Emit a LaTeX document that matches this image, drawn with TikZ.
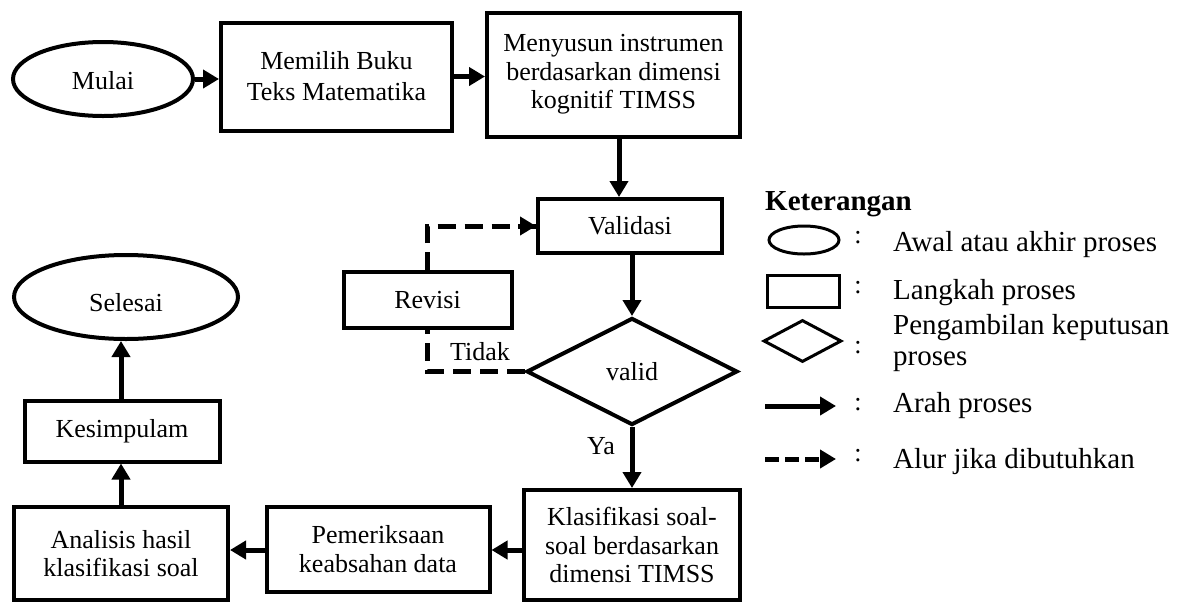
\documentclass[tikz,border=0pt]{standalone}
\usepackage{fontspec}
\setmainfont{Liberation Serif}
\usetikzlibrary{shapes.geometric,arrows.meta}
\begin{document}
\begin{tikzpicture}[x=1pt,y=-1pt,
  every node/.style={font=\fontsize{26}{28.5}\selectfont, inner sep=0pt},
  box/.style={draw, line width=4pt, rectangle, align=center},
  oval/.style={draw, line width=4pt, ellipse},
  dia/.style={draw, line width=4pt, diamond},
  flow/.style={line width=5pt, -{Triangle[length=16pt,width=18pt]}},
  optflow/.style={line width=5pt, dash pattern=on 18pt off 9pt},
  lbl/.style={font=\fontsize{26}{28}\selectfont},
  leg/.style={font=\fontsize{29}{31}\selectfont, anchor=west, align=left},
  colon/.style={font=\fontsize{26}{28}\selectfont}
]
\useasboundingbox (0,0) rectangle (1186,606);
% main nodes
\node[oval, minimum width=180pt, minimum height=74pt] (mulai) at (103,79) {Mulai\rule{0pt}{22pt}};
\node[box, minimum width=231pt, minimum height=108pt, font=\fontsize{26}{31}\selectfont] (memilih) at (336.5,76.5) {Memilih Buku\\Teks Matematika};
\node[box, minimum width=253pt, minimum height=124pt] (menyusun) at (613.5,74.5) {Menyusun instrumen\\berdasarkan dimensi\\kognitif TIMSS};
\node[box, minimum width=184pt, minimum height=54pt] (validasi) at (630,226) {Validasi};
\node[dia, minimum width=211pt, minimum height=107pt, aspect=1.97] (valid) at (632,371.5) {valid};
\node[box, minimum width=168pt, minimum height=56pt] (revisi) at (427.5,300) {Revisi};
\node[box, minimum width=216pt, minimum height=110pt] (klas) at (632,545) {Klasifikasi soal-\\soal berdasarkan\\dimensi TIMSS};
\node[box, minimum width=223pt, minimum height=85pt] (pem) at (378,549) {Pemeriksaan\\keabsahan data};
\node[box, minimum width=214pt, minimum height=93pt] (anal) at (121,553.5) {Analisis hasil\\klasifikasi soal};
\node[box, minimum width=195pt, minimum height=61pt] (kes) at (122,431) {Kesimpulam};
\node[oval, minimum width=224pt, minimum height=84pt] (selesai) at (126,297) {Selesai\rule{0pt}{30pt}};
% labels
\node[lbl] (tidak) at (480,352) {Tidak};
\node[lbl] (ya) at (601,446) {Ya};
% connectors
\draw[flow] (mulai.east) -- (memilih.west |- mulai.east);
\draw[flow] (memilih.east) -- (menyusun.west |- memilih.east);
\coordinate (m1) at (619,0);
\draw[flow] (menyusun.south -| m1) -- (validasi.north -| m1);
\draw[flow] (validasi.south -| valid.north) -- (valid.north);
\draw[optflow] (revisi.north) |- (validasi.west);
\draw[line width=5pt, -{Triangle[length=16pt,width=18pt]}] ([xshift=-18pt]validasi.west) -- (validasi.west);
\draw[optflow] (valid.west) -| (revisi.south);
\draw[flow] (valid.south) -- (klas.north -| valid.south);
\coordinate (pa) at (0,550);
\draw[flow] (klas.west |- pa) -- (pem.east |- pa);
\draw[flow] (pem.west |- pa) -- (anal.east |- pa);
\coordinate (lc) at (121,0);
\draw[flow] (anal.north -| lc) -- (kes.south -| lc);
\draw[flow] (kes.north -| lc) -- (selesai.south -| lc);
% legend
\node[font=\fontsize{29}{31}\selectfont\bfseries, anchor=west] (ket) at (765,204) {Keterangan};
\node[draw, line width=3pt, ellipse, minimum width=70pt, minimum height=28pt] (lov) at (804,240) {};
\node[draw, line width=3pt, rectangle, minimum width=72pt, minimum height=32pt] (lbox) at (803.5,291) {};
\node[draw, line width=3pt, diamond, minimum width=78pt, minimum height=42pt, aspect=1.857] (ldia) at (802.5,341) {};
\coordinate (la1) at (765,406); \coordinate (la2) at (836,406);
\draw[line width=5pt, -{Triangle[length=16pt,width=18pt]}] (la1) -- (la2);
\coordinate (lb1) at (765,459); \coordinate (lb2) at (836,459);
\draw[line width=5pt, dash pattern=on 14pt off 6pt, -{Triangle[length=16pt,width=18pt]}] (lb1) -- (lb2);
\node[colon] (c1) at (858,238) {:};
\node[colon] (c2) at (858,288) {:};
\node[colon] (c3) at (858,348) {:};
\node[colon] (c4) at (858,405) {:};
\node[colon] (c5) at (858,456) {:};
\node[leg] (t1) at (893,245) {Awal atau akhir proses};
\node[leg] (t2) at (893,293) {Langkah proses};
\node[leg] (t3) at (893,343) {Pengambilan keputusan\\proses};
\node[leg] (t4) at (893,406) {Arah proses};
\node[leg] (t5) at (893,462) {Alur jika dibutuhkan};
\end{tikzpicture}
\end{document}
